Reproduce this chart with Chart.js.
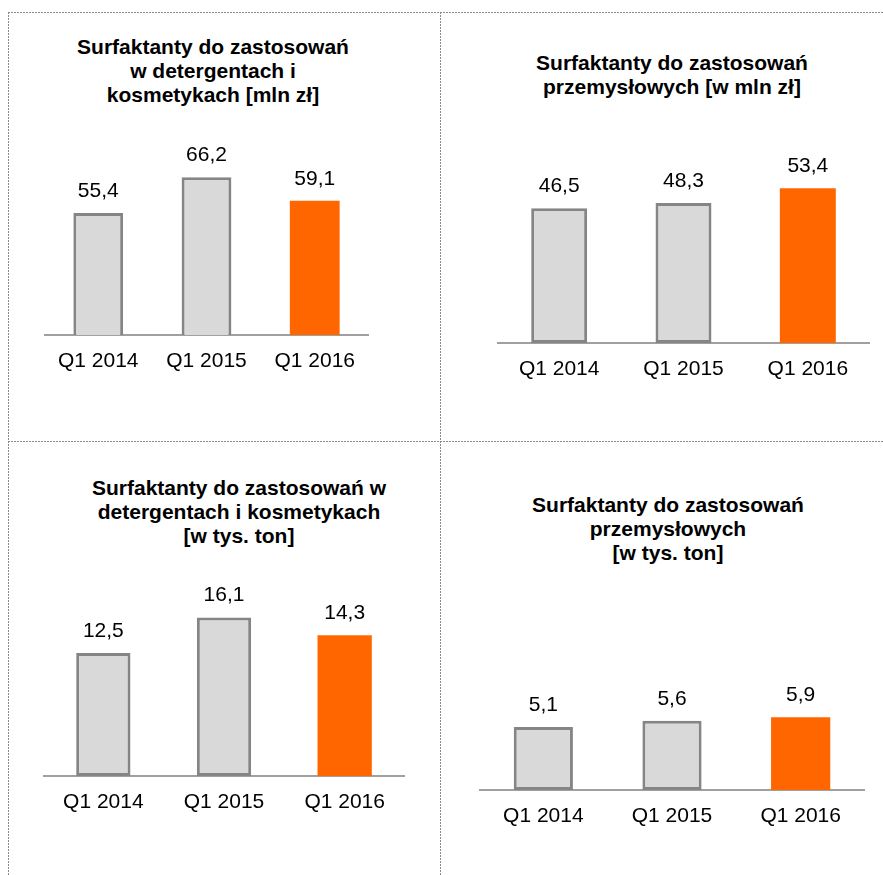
<!DOCTYPE html>
<html>
<head>
<meta charset="utf-8">
<script src="https://cdn.jsdelivr.net/npm/chart.js@4.4.1/dist/chart.umd.min.js"></script>
<style>
  html, body { margin: 0; padding: 0; background: #fff; }
  body { width: 883px; height: 875px; position: relative; overflow: hidden; font-family: "Liberation Sans", Arial, sans-serif; }
  .hline { position: absolute; height: 1px; background: repeating-linear-gradient(to right, #8a8a8a 0 2px, transparent 2px 3px); }
  .vline { position: absolute; width: 1px; background: repeating-linear-gradient(to bottom, #8a8a8a 0 2px, transparent 2px 3px); }
  .title { position: absolute; width: 420px; text-align: center; font-weight: bold; font-size: 21px; line-height: 24px; color: #000; white-space: nowrap; }
  .cv { position: absolute; }
</style>
</head>
<body>
<div class="hline" style="left:8px; top:12px; width:875px;"></div>
<div class="hline" style="left:8px; top:441px; width:875px;"></div>
<div class="vline" style="left:8px; top:12px; height:863px;"></div>
<div class="vline" style="left:440px; top:12px; height:863px;"></div>

<div class="title" style="left:3px; top:35px;">Surfaktanty do zastosowań<br>w detergentach i<br>kosmetykach [mln zł]</div>
<div class="title" style="left:462px; top:51px;">Surfaktanty do zastosowań<br>przemysłowych [w mln zł]</div>
<div class="title" style="left:29px; top:476px;">Surfaktanty do zastosowań w<br>detergentach i kosmetykach<br>[w tys. ton]</div>
<div class="title" style="left:458px; top:493px;">Surfaktanty do zastosowań<br>przemysłowych<br>[w tys. ton]</div>

<canvas id="c1" class="cv"></canvas>
<canvas id="c2" class="cv"></canvas>
<canvas id="c3" class="cv"></canvas>
<canvas id="c4" class="cv"></canvas>

<script>
const categories = ["Q1 2014", "Q1 2015", "Q1 2016"];
const detergentsPln = [55.4, 66.2, 59.1];
const industrialPln = [46.5, 48.3, 53.4];
const detergentsTons = [12.5, 16.1, 14.3];
const industrialTons = [5.1, 5.6, 5.9];

const FONT = '"Liberation Sans", Arial, sans-serif';

const valueLabels = {
  id: 'valueLabels',
  afterDatasetsDraw(chart) {
    const ctx = chart.ctx;
    const meta = chart.getDatasetMeta(0);
    const data = chart.data.datasets[0].data;
    ctx.save();
    ctx.font = '21px ' + FONT;
    ctx.fillStyle = '#000';
    ctx.textAlign = 'center';
    ctx.textBaseline = 'middle';
    meta.data.forEach((el, i) => {
      ctx.fillText(data[i].toFixed(1).replace('.', ','), el.x, el.y - 22);
    });
    ctx.restore();
  }
};

function makeChart(id, values, box) {
  const cv = document.getElementById(id);
  const xH = 60;
  const areaH = box.axisY - box.top;
  cv.style.left = box.left + 'px';
  cv.style.top = box.top + 'px';
  cv.width = box.width;
  cv.height = areaH + xH;
  cv.style.width = box.width + 'px';
  cv.style.height = (areaH + xH) + 'px';
  const max = box.min + areaH / box.k;
  new Chart(cv, {
    type: 'bar',
    data: {
      labels: categories,
      datasets: [{
        data: values,
        backgroundColor: ['#d9d9d9', '#d9d9d9', '#ff6600'],
        borderColor: ['#858585', '#858585', '#ff6600'],
        borderWidth: [3, 3, 0],
        borderSkipped: false,
        barPercentage: box.bp,
        categoryPercentage: 1
      }]
    },
    options: {
      responsive: false,
      animation: false,
      devicePixelRatio: 1,
      layout: { padding: 0 },
      plugins: { legend: { display: false }, tooltip: { enabled: false }, title: { display: false } },
      scales: {
        x: {
          grid: { display: false, drawTicks: false },
          border: { display: true, color: '#a0a0a0', width: 2 },
          ticks: { color: '#000', font: { family: FONT, size: 21 }, padding: 14, maxRotation: 0, autoSkip: false },
          afterFit: s => { s.height = xH; }
        },
        y: {
          display: false,
          min: box.min,
          max: max
        }
      }
    },
    plugins: [valueLabels]
  });
}

makeChart('c1', detergentsPln, { left: 44, width: 325, top: 120, axisY: 335, k: 3.33, min: 18.8, bp: 0.46 });
makeChart('c2', industrialPln, { left: 497, width: 373, top: 130, axisY: 343, k: 2.9, min: 0, bp: 0.45 });
makeChart('c3', detergentsTons, { left: 43, width: 362, top: 570, axisY: 776, k: 9.84, min: 0, bp: 0.45 });
makeChart('c4', industrialTons, { left: 479, width: 386, top: 640, axisY: 790, k: 12.35, min: 0, bp: 0.46 });
</script>
</body>
</html>
